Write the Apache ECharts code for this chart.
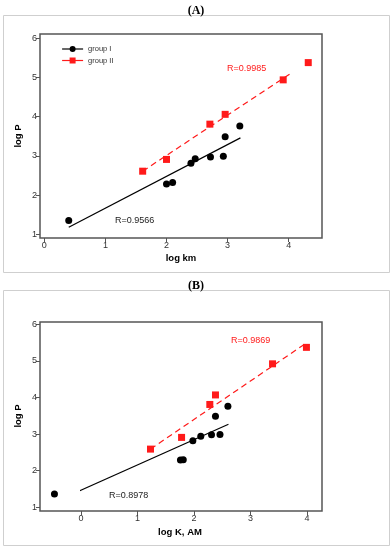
<!DOCTYPE html>
<html><head><meta charset="utf-8">
<script src="https://cdn.jsdelivr.net/npm/echarts@6/dist/echarts.min.js"></script>
<style>html,body{margin:0;padding:0;background:#fff}#c{width:392px;height:550px}</style>
</head><body><div id="c"></div>
<script>
// ---- data ----
const groupA1 = [[0.40,1.35],[2.00,2.28],[2.10,2.32],[2.40,2.81],[2.47,2.93],[2.72,2.97],[2.93,2.99],[2.96,3.49],[3.20,3.76]];
const groupA2 = [[1.61,2.61],[2.00,2.91],[2.71,3.81],[2.96,4.06],[3.91,4.94],[4.32,5.38]];
const fitA1 = [[0.40,1.18],[3.21,3.46]];
const fitA2 = [[1.61,2.61],[4.32,5.40]];
const groupB1 = [[-0.47,1.36],[1.76,2.29],[1.81,2.30],[1.98,2.82],[2.12,2.94],[2.31,2.98],[2.46,2.99],[2.38,3.49],[2.60,3.76]];
const groupB2 = [[1.23,2.59],[1.78,2.91],[2.28,3.81],[2.38,4.07],[3.39,4.92],[3.99,5.37]];
const fitB1 = [[-0.46,1.15],[2.61,3.27]];
const fitB2 = [[1.23,2.59],[3.96,5.46]];
const xRange = [0, 4];
const yRange = [1, 6];
const seriesNames = ['group I', 'group II'];
const panelTitles = ['(A)', '(B)'];
const xNames = ['log km', 'log K, AM'];
const yName = 'log P';
const rA = ['R=0.9566', 'R=0.9985'];
const rB = ['R=0.8978', 'R=0.9869'];

const FONT = 'Liberation Sans';
const RED = '#ff1a1a';
const chart = echarts.init(document.getElementById('c'), null, {renderer: 'canvas'});

function dataAxes(gridIndex, xOffset, yOffset) {
  return {
    x: {type: 'value', gridIndex, min: xRange[0], max: xRange[1], interval: 1, offset: xOffset,
        axisLine: {show: false, onZero: false}, splitLine: {show: false},
        axisTick: {show: true, length: 4, lineStyle: {color: '#555', width: 1}},
        axisLabel: {fontFamily: FONT, fontSize: 9, color: '#333', margin: 3}},
    y: {type: 'value', gridIndex, min: yRange[0], max: yRange[1], interval: 1, offset: yOffset,
        axisLine: {show: false, onZero: false}, splitLine: {show: false},
        axisTick: {show: true, length: 4, lineStyle: {color: '#555', width: 1}},
        axisLabel: {fontFamily: FONT, fontSize: 9, color: '#333', margin: 3}}
  };
}
const axA = dataAxes(1, 3.7, 4.3);
const axB = dataAxes(3, 3.7, 41);

function groupSeries(name, data, axisIndex, color, symbol, size) {
  return {type: 'line', name, data, xAxisIndex: axisIndex, yAxisIndex: axisIndex,
    symbol, symbolSize: size, showSymbol: true, clip: false, silent: true,
    itemStyle: {color, opacity: 1}, lineStyle: {color, width: 1.2, opacity: 0}, z: 5};
}
function fitSeries(data, axisIndex, color, dashed) {
  return {type: 'line', data, xAxisIndex: axisIndex, yAxisIndex: axisIndex, symbol: 'none',
    clip: false, silent: true,
    lineStyle: {color, width: 1.2, type: dashed ? [6, 4] : 'solid'}, z: 3};
}

const frameStyle = {show: true, borderColor: '#555', borderWidth: 1.5, backgroundColor: 'transparent'};

const option = {
  animation: false,
  title: [
    {text: panelTitles[0], left: 'center', top: 0, textStyle: {fontFamily: 'Liberation Serif', fontWeight: 'bold', fontSize: 12, color: '#000'}},
    {text: panelTitles[1], left: 'center', top: 275, textStyle: {fontFamily: 'Liberation Serif', fontWeight: 'bold', fontSize: 12, color: '#000'}}
  ],
  grid: [
    Object.assign({left: 40, top: 34, width: 282, height: 204, outerBoundsMode: 'none'}, frameStyle),
    {left: 44.3, top: 38.3, width: 244.4, height: 196, show: false, outerBoundsMode: 'none'},
    Object.assign({left: 40, top: 322, width: 282, height: 189, outerBoundsMode: 'none'}, frameStyle),
    {left: 81, top: 324.3, width: 226, height: 183, show: false, outerBoundsMode: 'none'}
  ],
  xAxis: [axA.x, axB.x],
  yAxis: [axA.y, axB.y],
  legend: {
    data: seriesNames, orient: 'vertical', left: 61.5, top: 45, padding: 0,
    itemWidth: 21, itemHeight: 7.5, itemGap: 3.5,
    selectedMode: false,
    textStyle: {fontFamily: FONT, fontSize: 7.5, color: '#333'},
    lineStyle: {width: 1.2, opacity: 1}
  },
  series: [
    fitSeries(fitA1, 0, '#000', false),
    fitSeries(fitA2, 0, RED, true),
    groupSeries(seriesNames[0], groupA1, 0, '#000', 'circle', 7),
    groupSeries(seriesNames[1], groupA2, 0, RED, 'rect', 7),
    fitSeries(fitB1, 1, '#000', false),
    fitSeries(fitB2, 1, RED, true),
    groupSeries(seriesNames[0], groupB1, 1, '#000', 'circle', 7),
    groupSeries(seriesNames[1], groupB2, 1, RED, 'rect', 7)
  ],
  graphic: [
    {type: 'rect', shape: {x: 3.5, y: 15.5, width: 386, height: 257}, style: {fill: 'none', stroke: '#cfcfcf', lineWidth: 1}, silent: true},
    {type: 'rect', shape: {x: 3.5, y: 290.5, width: 386, height: 255}, style: {fill: 'none', stroke: '#cfcfcf', lineWidth: 1}, silent: true},
    {type: 'text', x: 227, y: 69, style: {text: rA[1], fill: RED, font: '9px "' + FONT + '"', textVerticalAlign: 'middle'}},
    {type: 'text', x: 115, y: 221, style: {text: rA[0], fill: '#222', font: '9px "' + FONT + '"', textVerticalAlign: 'middle'}},
    {type: 'text', x: 231, y: 341, style: {text: rB[1], fill: RED, font: '9px "' + FONT + '"', textVerticalAlign: 'middle'}},
    {type: 'text', x: 109, y: 496, style: {text: rB[0], fill: '#222', font: '9px "' + FONT + '"', textVerticalAlign: 'middle'}},
    {type: 'text', x: 181, y: 258, style: {text: xNames[0], fill: '#000', font: 'bold 9.5px "' + FONT + '"', textAlign: 'center', textVerticalAlign: 'middle'}},
    {type: 'text', x: 180, y: 532, style: {text: xNames[1], fill: '#000', font: 'bold 9.5px "' + FONT + '"', textAlign: 'center', textVerticalAlign: 'middle'}},
    {type: 'text', x: 18.5, y: 136, rotation: Math.PI / 2, style: {text: yName, fill: '#000', font: 'bold 9.5px "' + FONT + '"', textAlign: 'center', textVerticalAlign: 'middle'}},
    {type: 'text', x: 18.5, y: 416, rotation: Math.PI / 2, style: {text: yName, fill: '#000', font: 'bold 9.5px "' + FONT + '"', textAlign: 'center', textVerticalAlign: 'middle'}}
  ]
};
chart.setOption(option);
</script>
</body></html>
